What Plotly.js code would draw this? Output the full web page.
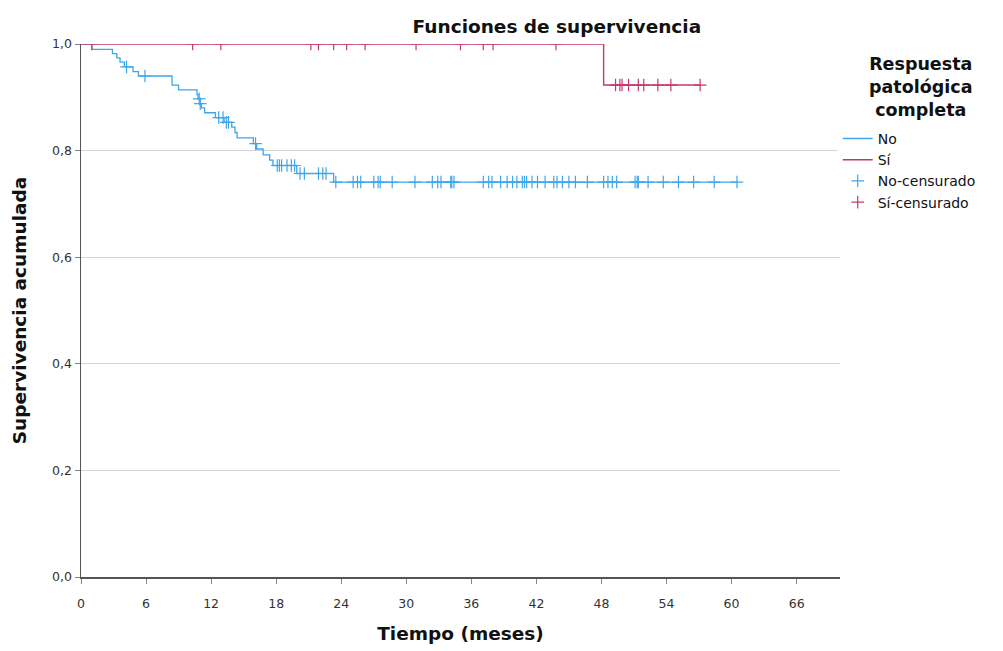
<!DOCTYPE html>
<html>
<head>
<meta charset="utf-8">
<script src="https://cdn.plot.ly/plotly-3.0.1.min.js"></script>
<style>html,body{margin:0;padding:0;background:#fff;}#chart{width:1003px;height:651px;}</style>
</head>
<body>
<div id="chart"></div>
<script>
// Kaplan-Meier step data
var noTimes = [0, 1.0, 2.9, 3.3, 3.6, 4.0, 4.8, 5.3, 8.4, 9.0, 10.7, 10.8, 11.0, 11.1, 11.4, 12.4, 13.2, 13.9, 14.2, 14.4, 15.9, 16.2, 16.8, 17.4, 17.7, 19.9, 23.3, 60.5];
var noSurv  = [1.0, 0.990, 0.982, 0.974, 0.966, 0.957, 0.948, 0.940, 0.923, 0.914, 0.905, 0.897, 0.888, 0.880, 0.871, 0.862, 0.853, 0.844, 0.834, 0.824, 0.813, 0.803, 0.792, 0.782, 0.772, 0.757, 0.741, 0.741];
var noCensor = [4.2, 5.9, 10.9, 11.0, 12.7, 13.1, 13.4, 13.6, 16.1, 18.1, 18.3, 18.5, 19.0, 19.4, 19.7, 20.2, 20.6, 21.9, 22.3, 22.6, 23.5, 25.1, 25.5, 25.8, 27.0, 27.4, 27.6, 28.7, 30.8, 32.4, 32.9, 33.2, 34.1, 34.2, 34.4, 37.1, 37.6, 37.9, 38.7, 39.3, 39.8, 40.2, 40.7, 40.9, 41.1, 41.6, 42.1, 42.8, 43.6, 43.9, 44.4, 45.0, 45.6, 46.7, 48.2, 48.6, 49.0, 49.4, 51.1, 51.3, 51.4, 52.3, 53.7, 55.1, 56.5, 58.4, 60.5];

var siTimes = [0, 48.2, 57.1];
var siSurv  = [1.0, 0.923, 0.923];
var siCensor = [1.0, 10.3, 12.9, 21.2, 21.9, 23.3, 24.5, 26.2, 30.9, 35.0, 37.1, 38.0, 43.8, 49.3, 49.7, 49.9, 50.5, 51.4, 51.9, 53.2, 54.4, 57.1];

var xTickVals = [0, 6, 12, 18, 24, 30, 36, 42, 48, 54, 60, 66];
var yTickVals = [0, 0.2, 0.4, 0.6, 0.8, 1.0];
var yTickText = ["0,0", "0,2", "0,4", "0,6", "0,8", "1,0"];

function survAt(times, surv, t) {
  var s = surv[0];
  for (var i = 0; i < times.length; i++) { if (times[i] <= t) s = surv[i]; }
  return s;
}

var blue = '#3fa6ea';
var red = '#c23a70';
var font = 'DejaVu Sans, Verdana, sans-serif';

var traces = [
  {x: noTimes, y: noSurv, mode: 'lines', line: {shape: 'hv', color: blue, width: 1.3}, name: 'No'},
  {x: siTimes, y: siSurv, mode: 'lines', line: {shape: 'hv', color: red, width: 1.4}, name: 'Sí'},
  {x: noCensor, y: noCensor.map(function(t){return survAt(noTimes, noSurv, t);}), mode: 'markers',
   marker: {symbol: 'cross-thin-open', size: 9, line: {color: blue, width: 1.2}, color: blue}, name: 'No-censurado'},
  {x: siCensor, y: siCensor.map(function(t){return survAt(siTimes, siSurv, t);}), mode: 'markers',
   marker: {symbol: 'cross-thin-open', size: 9, line: {color: red, width: 1.2}, color: red}, name: 'Sí-censurado'}
];

var layout = {
  width: 1003, height: 651,
  margin: {l: 81, r: 163, t: 44, b: 74},
  paper_bgcolor: '#fff', plot_bgcolor: '#fff',
  font: {family: font, color: '#222'},
  title: {text: '<b>Funciones de supervivencia</b>', font: {size: 18.5, family: font, color: '#111'},
          xref: 'paper', x: 0.627, xanchor: 'center', yref: 'container', y: 1 - 27/651, yanchor: 'middle'},
  xaxis: {range: [0, 70], tickvals: xTickVals, ticks: 'outside', ticklen: 5, tickcolor: '#888',
          ticklabelstandoff: 9,
          showgrid: false, zeroline: false, showline: true, linecolor: '#555', linewidth: 1.5,
          tickfont: {size: 12.5, color: '#333', family: font},
          title: {text: '<b>Tiempo (meses)</b>', font: {size: 18.5, color: '#111', family: font}, standoff: 17}},
  yaxis: {range: [0, 1.0], tickvals: yTickVals, ticktext: yTickText, ticks: 'outside', ticklen: 5, tickcolor: '#888',
          showgrid: true, gridcolor: '#d4d4d4', gridwidth: 1, zeroline: false, showline: true, linecolor: '#555', linewidth: 1.5,
          tickfont: {size: 12.5, color: '#333', family: font},
          title: {text: '<b>Supervivencia acumulada</b>', font: {size: 18.5, color: '#111', family: font}, standoff: 20}},
  showlegend: true,
  legend: {x: 0.997, xanchor: 'left', y: 0.852, yanchor: 'top', itemwidth: 30,
           font: {size: 14, family: font, color: '#111'}, tracegroupgap: 0},
  annotations: [
    {text: '<b>Respuesta<br>patológica<br>completa</b>', xref: 'paper', yref: 'paper',
     x: (920 - 81) / 759, y: (577 - 87) / 533, xanchor: 'center', yanchor: 'middle', align: 'center',
     showarrow: false, font: {size: 17.5, family: font, color: '#111'}}
  ]
};

Plotly.newPlot('chart', traces, layout, {displayModeBar: false, staticPlot: true});
</script>
</body>
</html>
